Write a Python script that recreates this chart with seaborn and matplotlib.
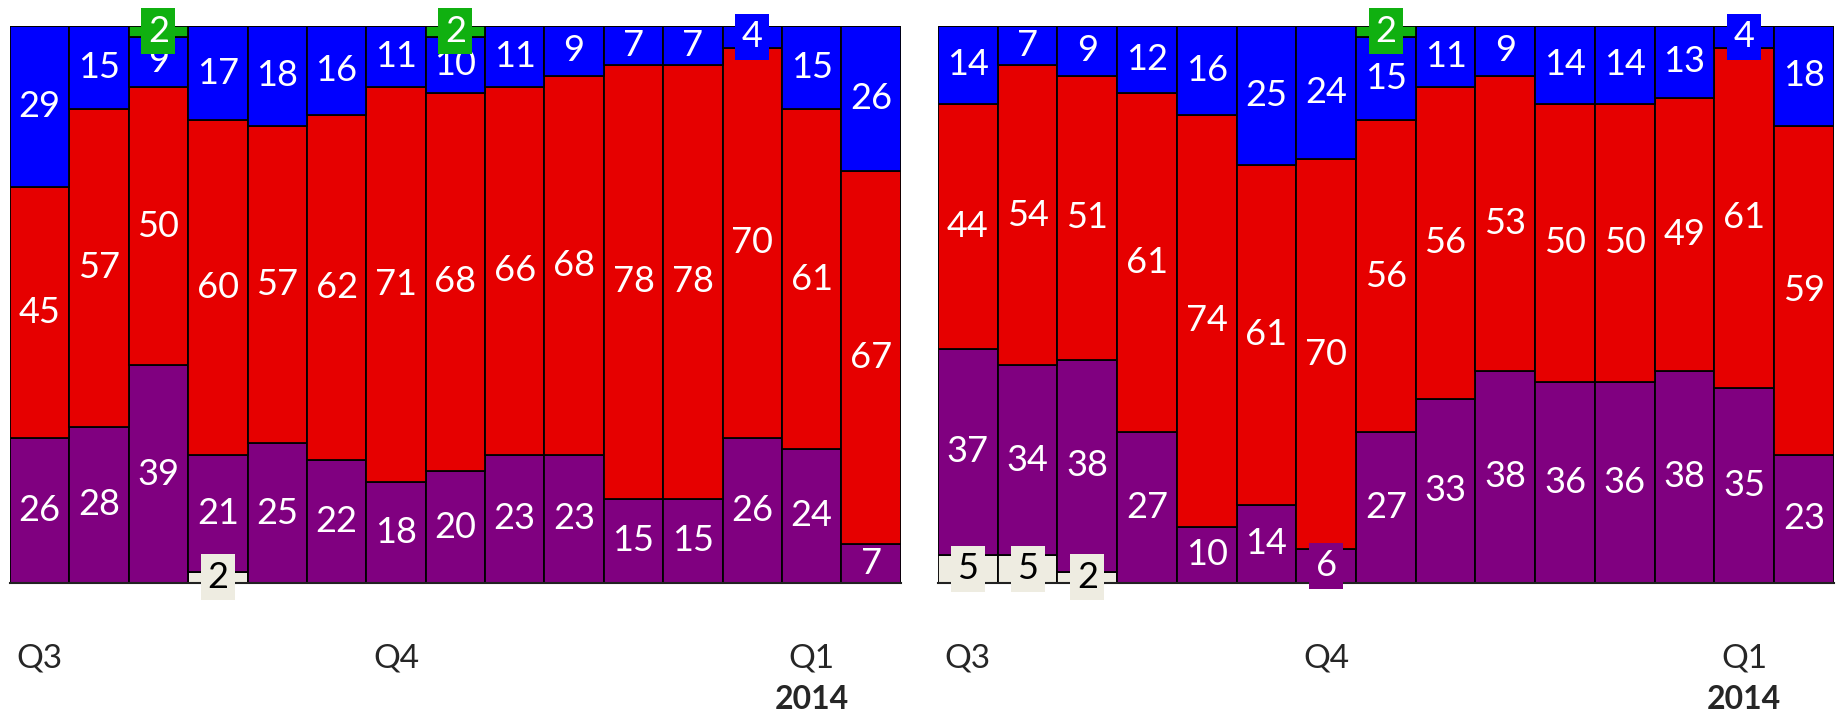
import numpy as np
import pandas as pd
import matplotlib
matplotlib.use("Agg")
import matplotlib.pyplot as plt
import seaborn as sns

# ---------------- data ----------------
bar_index = list(range(15))

left_beige  = [0, 0, 0, 2, 0, 0, 0, 0, 0, 0, 0, 0, 0, 0, 0]
left_purple = [26, 28, 39, 21, 25, 22, 18, 20, 23, 23, 15, 15, 26, 24, 7]
left_red    = [45, 57, 50, 60, 57, 62, 71, 68, 66, 68, 78, 78, 70, 61, 67]
left_blue   = [29, 15, 9, 17, 18, 16, 11, 10, 11, 9, 7, 7, 4, 15, 26]
left_green  = [0, 0, 2, 0, 0, 0, 0, 2, 0, 0, 0, 0, 0, 0, 0]

right_beige  = [5, 5, 2, 0, 0, 0, 0, 0, 0, 0, 0, 0, 0, 0, 0]
right_purple = [37, 34, 38, 27, 10, 14, 6, 27, 33, 38, 36, 36, 38, 35, 23]
right_red    = [44, 54, 51, 61, 74, 61, 70, 56, 56, 53, 50, 50, 49, 61, 59]
right_blue   = [14, 7, 9, 12, 16, 25, 24, 15, 11, 9, 14, 14, 13, 4, 18]
right_green  = [0, 0, 0, 0, 0, 0, 0, 2, 0, 0, 0, 0, 0, 0, 0]

quarter_positions = [0, 6, 13]
quarter_labels = ["Q3", "Q4", "Q1"]
year_position = 13
year_label = "2014"

# ---------------- style ----------------
sns.set_style("white")
plt.rcParams["font.family"] = ["Lato", "DejaVu Sans"]

seg_colors = ["#EEECE1", "#800080", "#E60000", "#0000FF", "#10B010"]
text_colors = ["black", "white", "white", "white", "white"]

fig = plt.figure(figsize=(18.39, 7.13), dpi=100)
ax_left = fig.add_axes([10 / 1839, 130.3 / 713, 890.7 / 1839, 557 / 713])
ax_right = fig.add_axes([938 / 1839, 130.3 / 713, 895.7 / 1839, 557 / 713])


def draw_panel(ax, segments):
    bottom = np.zeros(len(bar_index))
    for vals, col, tcol in zip(segments, seg_colors, text_colors):
        vals = np.asarray(vals, dtype=float)
        df = pd.DataFrame({"bar": bar_index, "value": vals})
        sns.barplot(data=df, x="bar", y="value", ax=ax, bottom=bottom,
                    color=col, saturation=1, width=1.0, errorbar=None,
                    edgecolor="black", linewidth=1.3)
        for i, v in enumerate(vals):
            if v <= 0:
                continue
            yc = bottom[i] + v / 2
            kw = {}
            if v <= 6:
                kw["bbox"] = dict(boxstyle="square,pad=0.18", fc=col, ec="none")
            ax.text(i, yc, f"{int(v)}", ha="center", va="center",
                    color=tcol, fontsize=26, clip_on=False, zorder=5, **kw)
        bottom = bottom + vals

    ax.set_xlim(-0.5, len(bar_index) - 0.5)
    ax.set_ylim(0, 100)
    ax.set_xlabel("")
    ax.set_ylabel("")
    ax.set_yticks([])
    ax.set_xticks(quarter_positions)
    ax.set_xticklabels(quarter_labels, fontsize=24)
    ax.tick_params(axis="x", length=0, pad=44)
    for s in ["left", "right", "top"]:
        ax.spines[s].set_visible(False)
    ax.spines["bottom"].set_color("#222222")
    ax.spines["bottom"].set_linewidth(1.5)
    ax.annotate(year_label, xy=(year_position, 0), xycoords=("data", "axes fraction"),
                xytext=(0, -84), textcoords="offset points", ha="center", va="center",
                fontsize=23, fontweight="bold", annotation_clip=False)


draw_panel(ax_left, [left_beige, left_purple, left_red, left_blue, left_green])
draw_panel(ax_right, [right_beige, right_purple, right_red, right_blue, right_green])

fig.savefig("out.png", dpi=100)
